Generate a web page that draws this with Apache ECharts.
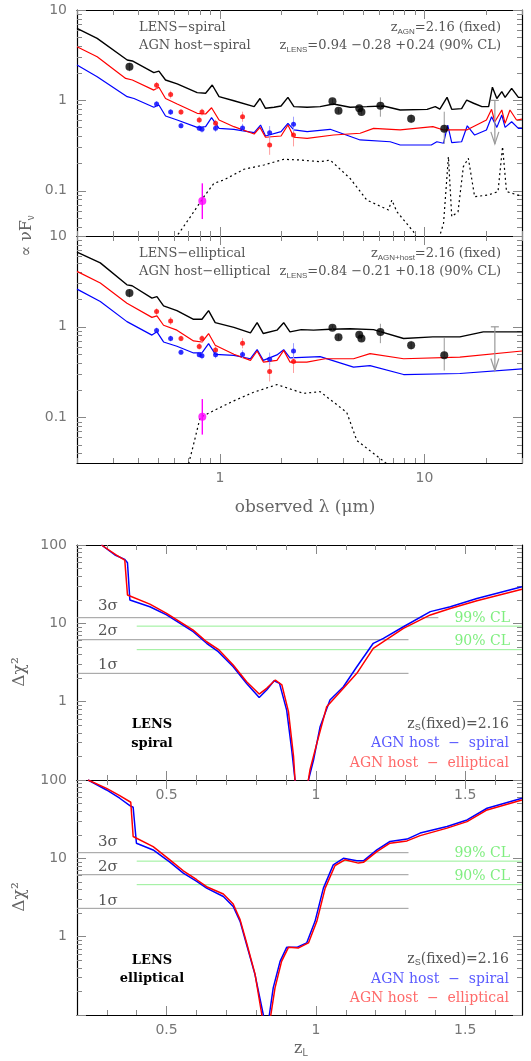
<!DOCTYPE html>
<html>
<head>
<meta charset="utf-8">
<script src="https://cdn.jsdelivr.net/npm/echarts@6/dist/echarts.min.js"></script>
<style>
  html, body { margin: 0; padding: 0; background: #fff; }
  #chart { width: 531px; height: 1061px; }
</style>
</head>
<body>
<div id="chart"></div>
<script>
// ---------- SED, LENS spiral / AGN host spiral ----------
const spBlackLam = [0.2, 0.251, 0.352, 0.373, 0.475, 0.503, 0.542, 0.618, 0.774, 0.851, 0.917, 0.99, 1.17, 1.47, 1.57, 1.67, 1.84, 1.99, 2.15, 2.30, 2.67, 3.09, 3.59, 4.33, 5.23, 6.31, 7.61, 10.3, 11.3, 11.9, 12.9, 13.6, 15.2, 16.1, 17.4, 19.1, 20.6, 21.5, 22.6, 23.9, 24.8, 26.7, 28.8, 30];
const spBlack = [6.27, 4.86, 2.80, 2.73, 2.03, 2.11, 1.68, 1.52, 1.22, 1.20, 1.48, 1.10, 0.99, 0.853, 1.05, 0.818, 0.84, 0.867, 1.08, 0.853, 0.84, 0.853, 0.912, 0.84, 0.853, 0.867, 0.783, 0.796, 0.853, 0.80, 1.08, 0.796, 0.81, 1.01, 0.93, 0.853, 0.853, 1.40, 1.05, 1.25, 1.08, 1.36, 1.08, 1.08];
const spRedLam = [0.2, 0.251, 0.346, 0.373, 0.475, 0.503, 0.542, 0.618, 0.774, 0.851, 0.91, 0.99, 1.17, 1.47, 1.57, 1.67, 1.99, 2.15, 2.30, 2.67, 3.59, 4.85, 5.64, 7.61, 11.0, 12.4, 16.1, 20.1, 21.3, 22.1, 23.9, 24.8, 26.2, 28.2, 30];
const spRed = [3.93, 3.04, 1.75, 1.68, 1.30, 1.40, 1.05, 0.912, 0.72, 0.707, 0.83, 0.607, 0.512, 0.425, 0.503, 0.391, 0.404, 0.534, 0.391, 0.381, 0.414, 0.433, 0.491, 0.471, 0.512, 0.471, 0.471, 0.607, 0.796, 0.58, 0.783, 0.557, 0.783, 0.607, 0.62];
const spBlueLam = [0.2, 0.251, 0.352, 0.38, 0.475, 0.503, 0.542, 0.618, 0.774, 0.851, 0.91, 0.99, 1.17, 1.47, 1.58, 1.67, 1.99, 2.15, 2.30, 2.67, 3.46, 4.85, 6.8, 7.61, 10.8, 11.5, 12.4, 13.0, 13.6, 15.2, 16.2, 17.6, 20.1, 21.3, 22.6, 23.9, 24.8, 26.7, 28.8, 30];
const spBlue = [2.47, 1.83, 1.10, 1.05, 0.84, 0.89, 0.672, 0.607, 0.503, 0.512, 0.644, 0.491, 0.479, 0.44, 0.534, 0.404, 0.451, 0.557, 0.471, 0.451, 0.479, 0.365, 0.349, 0.321, 0.321, 0.349, 0.336, 0.534, 0.341, 0.349, 0.524, 0.414, 0.471, 0.66, 0.503, 0.689, 0.503, 0.58, 0.491, 0.491];
const spDotLam = [0.60, 0.63, 0.718, 0.835, 0.935, 1.046, 1.31, 1.64, 2.05, 2.47, 3.09, 3.46, 4.33, 5.23, 6.67, 6.93, 7.33, 8.84, 9.5, 11.5, 12.4, 13.1, 13.6, 14.6, 15.5, 16.4, 17.6, 20.6, 22.9, 24.1, 25.2, 30];
const spDot = [0.03, 0.0339, 0.0518, 0.086, 0.121, 0.132, 0.173, 0.193, 0.223, 0.219, 0.21, 0.219, 0.137, 0.079, 0.0614, 0.079, 0.0587, 0.0353, 0.025, 0.025, 0.0436, 0.238, 0.0518, 0.0587, 0.185, 0.229, 0.086, 0.09, 0.098, 0.308, 0.098, 0.087];

// ---------- SED, LENS elliptical / AGN host elliptical ----------
const elBlackLam = [0.2, 0.26, 0.351, 0.372, 0.465, 0.492, 0.53, 0.616, 0.743, 0.817, 0.88, 0.948, 1.17, 1.41, 1.52, 1.63, 1.90, 2.05, 2.2, 2.5, 2.87, 3.46, 4.33, 5.64, 7.91, 11.0, 14.9, 19.4, 30];
const elBlack = [6.64, 5.06, 2.90, 2.83, 2.07, 2.15, 1.70, 1.51, 1.21, 1.21, 1.51, 1.11, 0.984, 0.857, 1.11, 0.843, 0.918, 1.11, 0.88, 0.93, 0.918, 0.94, 0.95, 0.93, 0.743, 0.774, 0.774, 0.88, 0.88];
const elRedLam = [0.2, 0.26, 0.351, 0.465, 0.492, 0.53, 0.616, 0.743, 0.817, 0.88, 0.948, 1.17, 1.41, 1.52, 1.63, 1.90, 2.05, 2.2, 2.66, 3.27, 4.5, 5.42, 7.91, 14.9, 30];
const elRed = [4.08, 3.03, 1.82, 1.27, 1.32, 1.04, 0.918, 0.699, 0.68, 0.843, 0.627, 0.498, 0.427, 0.541, 0.409, 0.427, 0.55, 0.409, 0.409, 0.445, 0.445, 0.506, 0.445, 0.464, 0.541];
const elBlueLam = [0.2, 0.26, 0.351, 0.465, 0.492, 0.53, 0.616, 0.743, 0.817, 0.88, 0.948, 1.17, 1.41, 1.52, 1.63, 1.90, 2.05, 2.2, 3.09, 4.5, 5.42, 7.91, 14.9, 30];
const elBlue = [2.60, 1.90, 1.14, 0.81, 0.88, 0.681, 0.61, 0.515, 0.515, 0.653, 0.498, 0.485, 0.445, 0.56, 0.427, 0.49, 0.56, 0.455, 0.47, 0.36, 0.374, 0.298, 0.306, 0.344];
const elDotLam = [0.703, 0.743, 0.8, 0.93, 1.17, 1.46, 1.90, 2.56, 3.09, 4.17, 4.67, 6.55, 7.2];
const elDot = [0.031, 0.0506, 0.1, 0.119, 0.153, 0.19, 0.231, 0.185, 0.193, 0.114, 0.056, 0.031, 0.025];

// ---------- photometry (same in both SED panels) ----------
const blkLam = [0.361, 3.55, 3.80, 4.80, 4.92, 6.09, 8.61, 12.5];
const blkFlux = [2.36, 0.977, 0.769, 0.818, 0.745, 0.875, 0.628, 0.486];
const blkLo = [2.1, 0.92, 0.72, 0.77, 0.70, 0.66, 0.56, 0.33];
const blkHi = [2.6, 1.04, 0.82, 0.87, 0.79, 1.08, 0.70, 0.75];
const colLam = [0.49, 0.574, 0.645, 0.792, 0.817, 0.952, 1.29, 1.75, 2.29];
const redFlux = [1.47, 1.16, 0.745, 0.607, 0.745, 0.557, 0.66, 0.321, 0.414];
const redLo = [1.35, 1.05, 0.69, 0.56, 0.68, 0.51, 0.58, 0.25, 0.31];
const redHi = [1.6, 1.28, 0.80, 0.66, 0.81, 0.61, 0.75, 0.40, 0.56];
const bluFlux = [0.912, 0.745, 0.525, 0.491, 0.479, 0.491, 0.496, 0.44, 0.543];
const bluLo = [0.85, 0.69, 0.49, 0.46, 0.44, 0.45, 0.45, 0.38, 0.45];
const bluHi = [0.98, 0.80, 0.56, 0.53, 0.52, 0.53, 0.55, 0.52, 0.66];
const magLam = [0.82];
const magSp = [0.077], magSpLo = [0.0487], magSpHi = [0.121];
const magEl = [0.102], magElLo = [0.065], magElHi = [0.16];
const ulLam = [22.1], ulTop = [1.0], ulBot = [0.33];

// ---------- delta chi2 vs z_L ----------
const p3BlueZ = [0.282, 0.327, 0.360, 0.369, 0.377, 0.444, 0.5, 0.589, 0.634, 0.673, 0.723, 0.768, 0.810, 0.835, 0.860, 0.878, 0.902, 0.919, 0.930, 0.940, 0.970, 0.975, 0.992, 1.014, 1.047, 1.092, 1.137, 1.192, 1.226, 1.293, 1.383, 1.450, 1.539, 1.69];
const p3Blue = [100, 74.5, 65.6, 59.4, 19.9, 16.3, 12.8, 7.82, 5.56, 4.34, 2.79, 1.71, 1.13, 1.41, 1.85, 1.71, 0.78, 0.24, 0.1, 0.05, 0.05, 0.1, 0.18, 0.48, 1.05, 1.55, 2.79, 5.56, 6.43, 9.04, 14.1, 16.3, 20.8, 29.3];
const p3RedZ = [0.282, 0.332, 0.360, 0.369, 0.444, 0.5, 0.589, 0.634, 0.673, 0.723, 0.768, 0.810, 0.835, 0.864, 0.886, 0.908, 0.925, 0.935, 0.962, 0.980, 1.003, 1.036, 1.092, 1.137, 1.192, 1.226, 1.293, 1.383, 1.450, 1.539, 1.69];
const p3Red = [100, 74.5, 64, 23, 17.6, 13.4, 8.2, 5.82, 4.66, 2.93, 1.8, 1.25, 1.48, 1.89, 1.64, 0.745, 0.2, 0.05, 0.05, 0.134, 0.293, 0.86, 1.48, 2.30, 4.78, 5.82, 8.63, 12.8, 15.5, 19.4, 27.2];
const p4BlueZ = [0.237, 0.299, 0.343, 0.377, 0.388, 0.399, 0.455, 0.511, 0.556, 0.601, 0.634, 0.690, 0.723, 0.746, 0.768, 0.796, 0.824, 0.830, 0.840, 0.844, 0.857, 0.880, 0.902, 0.936, 0.969, 0.997, 1.025, 1.058, 1.092, 1.137, 1.159, 1.204, 1.248, 1.305, 1.349, 1.439, 1.506, 1.573, 1.69];
const p4Blue = [100, 74.6, 58.5, 47.1, 44.9, 15.6, 12.8, 8.94, 6.47, 5.07, 4.17, 3.26, 2.43, 1.57, 0.79, 0.328, 0.1, 0.05, 0.05, 0.1, 0.222, 0.484, 0.731, 0.731, 0.832, 1.57, 4.17, 8.26, 10.0, 9.29, 9.29, 12.8, 16.4, 17.6, 21, 25.5, 30.9, 43.6, 58.5];
const p4RedZ = [0.237, 0.299, 0.343, 0.380, 0.388, 0.455, 0.511, 0.556, 0.601, 0.634, 0.690, 0.723, 0.746, 0.768, 0.796, 0.819, 0.826, 0.842, 0.849, 0.863, 0.885, 0.908, 0.942, 0.975, 1.003, 1.031, 1.064, 1.097, 1.142, 1.159, 1.204, 1.248, 1.305, 1.349, 1.439, 1.506, 1.573, 1.69];
const p4Red = [100, 78.3, 63, 52, 19, 14.1, 9.57, 6.94, 5.33, 4.34, 3.5, 2.61, 1.65, 0.83, 0.335, 0.1, 0.05, 0.05, 0.1, 0.222, 0.484, 0.731, 0.718, 0.832, 1.57, 4.17, 8.1, 9.57, 8.69, 8.9, 12.2, 15.6, 16.7, 19.5, 24.3, 29.4, 41.5, 55.6];

// confidence levels
const sigmaVals = [2.30, 6.18, 11.8];
const clVals = [4.61, 9.21];
const p3SigmaEnd = [1.31, 1.31, 1.41];
const p4SigmaEnd = [1.31, 1.31, 1.31];
const clStart = 0.4;

// ticks
const sedXMajor = [1, 10];
const sedXMinor = [0.2, 0.3, 0.4, 0.5, 0.6, 0.7, 0.8, 0.9, 2, 3, 4, 5, 6, 7, 8, 9, 20, 30];
const sedYMajor = [0.1, 1, 10];
const sedYMinor = [0.04, 0.05, 0.06, 0.07, 0.08, 0.09, 0.2, 0.3, 0.4, 0.5, 0.6, 0.7, 0.8, 0.9, 2, 3, 4, 5, 6, 7, 8, 9];
const chiXMajor = [0.5, 1, 1.5];
const chiXMinor = [0.3, 0.4, 0.6, 0.7, 0.8, 0.9, 1.1, 1.2, 1.3, 1.4, 1.6];
const chiYMajor = [0.1, 1, 10, 100];
const chiYMinor = [0.2, 0.3, 0.4, 0.5, 0.6, 0.7, 0.8, 0.9, 2, 3, 4, 5, 6, 7, 8, 9, 20, 30, 40, 50, 60, 70, 80, 90];

const zip = (xs, ys) => xs.map((x, i) => [x, ys[i]]);
const SERIF = 'DejaVu Serif';

function axes(dim, g, type, min, max, major, minor, labels) {
  const pos = dim === 'x' ? ['bottom', 'top'] : ['left', 'right'];
  const base = { type: type, gridIndex: g, min: min, max: max, splitLine: { show: false }, silent: true };
  if (type === 'log') base.logBase = 10;
  const out = [];
  pos.forEach((p, k) => {
    out.push(Object.assign({}, base, {
      position: p,
      axisLine: { show: true, onZero: false, lineStyle: { color: '#000', width: 1.2 } },
      axisTick: { show: true, inside: true, length: 9, customValues: major, lineStyle: { color: '#888' } },
      axisLabel: (k === 0 && labels) ? {
        show: true, customValues: labels, margin: dim === 'x' ? 8 : 10,
        color: '#777', fontSize: 14, fontFamily: 'DejaVu Sans'
      } : { show: false }
    }));
    out.push(Object.assign({}, base, {
      position: p,
      axisLine: { show: false },
      axisTick: { show: true, inside: true, length: 5, customValues: minor, lineStyle: { color: '#888' } },
      axisLabel: { show: false }
    }));
  });
  return out;
}

function line(g, xs, ys, color, width, type) {
  return {
    type: 'line', xAxisIndex: g * 4, yAxisIndex: g * 4, data: zip(xs, ys),
    symbol: 'none', silent: true, z: 3,
    lineStyle: { color: color, width: width, type: type || 'solid' }
  };
}
function dots(g, xs, ys, color, size) {
  return {
    type: 'scatter', xAxisIndex: g * 4, yAxisIndex: g * 4, data: zip(xs, ys),
    symbol: 'circle', symbolSize: size, silent: true, z: 5,
    itemStyle: { color: color }
  };
}
function errBars(g, xs, lo, hi, color, width) {
  return {
    type: 'custom', xAxisIndex: g * 4, yAxisIndex: g * 4, silent: true, z: 4,
    data: xs.map((x, i) => [x, lo[i], hi[i]]),
    renderItem: (params, api) => {
      const a = api.coord([api.value(0), api.value(1)]);
      const b = api.coord([api.value(0), api.value(2)]);
      return { type: 'line', shape: { x1: a[0], y1: a[1], x2: b[0], y2: b[1] },
        style: { stroke: color, lineWidth: width || 1 } };
    }
  };
}
function upperLimit(g) {
  return {
    type: 'custom', xAxisIndex: g * 4, yAxisIndex: g * 4, silent: true, z: 4,
    data: ulLam.map((x, i) => [x, ulTop[i], ulBot[i]]),
    renderItem: (params, api) => {
      const t = api.coord([api.value(0), api.value(1)]);
      const b = api.coord([api.value(0), api.value(2)]);
      const st = { stroke: '#999', lineWidth: 1.2, fill: null };
      return { type: 'group', children: [
        { type: 'line', shape: { x1: t[0], y1: t[1], x2: b[0], y2: b[1] }, style: st },
        { type: 'line', shape: { x1: t[0] - 4, y1: t[1], x2: t[0] + 4, y2: t[1] }, style: st },
        { type: 'polyline', shape: { points: [[b[0] - 4, b[1] - 12], [b[0], b[1]], [b[0] + 4, b[1] - 12]] }, style: st }
      ] };
    }
  };
}
function hline(g, y, x0, x1, color, width) {
  return {
    type: 'line', xAxisIndex: g * 4, yAxisIndex: g * 4, data: [[x0, y], [x1, y]],
    symbol: 'none', silent: true, z: 2, lineStyle: { color: color, width: width || 1 }
  };
}

const grids = [
  { left: 77, top: 10, width: 445, height: 226 },
  { left: 77, top: 236, width: 445, height: 227 },
  { left: 77, top: 545, width: 445, height: 235 },
  { left: 77, top: 780, width: 445, height: 235 }
];

const xAxis = [].concat(
  axes('x', 0, 'log', 0.2, 30, sedXMajor, sedXMinor, null),
  axes('x', 1, 'log', 0.2, 30, sedXMajor, sedXMinor, sedXMajor),
  axes('x', 2, 'value', 0.2, 1.69, chiXMajor, chiXMinor, chiXMajor),
  axes('x', 3, 'value', 0.2, 1.69, chiXMajor, chiXMinor, chiXMajor)
);
const yAxis = [].concat(
  axes('y', 0, 'log', Math.pow(10, -1.5), 10, sedYMajor, sedYMinor, sedYMajor),
  axes('y', 1, 'log', Math.pow(10, -1.5), 10, sedYMajor, sedYMinor, sedYMajor),
  axes('y', 2, 'log', 0.1, 100, chiYMajor, chiYMinor, [1, 10, 100]),
  axes('y', 3, 'log', 0.1, 100, chiYMajor, chiYMinor, [1, 10, 100])
);

const series = [];
// SED panels
[[0, spBlackLam, spBlack, spRedLam, spRed, spBlueLam, spBlue, spDotLam, spDot, magSp, magSpLo, magSpHi],
 [1, elBlackLam, elBlack, elRedLam, elRed, elBlueLam, elBlue, elDotLam, elDot, magEl, magElLo, magElHi]]
  .forEach(([g, bl, b, rl, r, ul, u, dl, d, m, mlo, mhi]) => {
    series.push(line(g, dl, d, '#000', 1.2, [2, 3]));
    series.push(line(g, ul, u, '#0000ff', 1.2));
    series.push(line(g, rl, r, '#ff0000', 1.2));
    series.push(line(g, bl, b, '#000', 1.4));
    series.push(upperLimit(g));
    series.push(errBars(g, blkLam, blkLo, blkHi, '#999'));
    series.push(errBars(g, colLam, redLo, redHi, '#ff9d9d'));
    series.push(errBars(g, colLam, bluLo, bluHi, '#9d9dff'));
    series.push(errBars(g, magLam, mlo, mhi, '#ff00ff', 1.4));
    series.push(dots(g, blkLam, blkFlux, '#000', 8));
    series.push(dots(g, colLam, redFlux, '#ff0000', 5));
    series.push(dots(g, colLam, bluFlux, '#0000ff', 5));
    series.push(dots(g, magLam, m, '#ff00ff', 8));
  });
// chi2 panels
[[2, p3BlueZ, p3Blue, p3RedZ, p3Red, p3SigmaEnd], [3, p4BlueZ, p4Blue, p4RedZ, p4Red, p4SigmaEnd]]
  .forEach(([g, bz, b, rz, r, sEnd]) => {
    sigmaVals.forEach((v, i) => series.push(hline(g, v, 0.2, sEnd[i], '#9a9a9a')));
    clVals.forEach(v => series.push(hline(g, v, clStart, 1.69, '#95ef95')));
    series.push(line(g, bz, b, '#0000ff', 1.5));
    series.push(line(g, rz, r, '#ff0000', 1.5));
  });

// ---------- annotation text ----------
const grey = '#555';
function txt(x, y, text, opt) {
  opt = opt || {};
  const size = opt.size || 13;
  return {
    type: 'text', x: x, y: y, rotation: opt.rot || 0, silent: true, z: 10,
    style: {
      text: text, x: 0, y: 0, fill: opt.color || grey,
      font: (opt.weight || 'normal') + ' ' + size + 'px "' + (opt.family || SERIF) + '"',
      align: opt.align || 'left', verticalAlign: 'middle',
      rich: {
        n: { lineHeight: size + 3 },
        sub: { fontSize: Math.round(size * 0.62), verticalAlign: 'bottom', lineHeight: 8 },
        i: { fontStyle: 'italic' }
      }
    }
  };
}
const graphic = [
  txt(139, 28, 'LENS−spiral'),
  txt(139, 46, 'AGN host−spiral'),
  txt(501, 28, '{n|z}{sub|AGN}{n|=2.16 (fixed)}', { align: 'right' }),
  txt(501, 46, '{n|z}{sub|LENS}{n|=0.94 −0.28 +0.24 (90% CL)}', { align: 'right' }),
  txt(139, 254, 'LENS−elliptical'),
  txt(139, 272, 'AGN host−elliptical'),
  txt(501, 254, '{n|z}{sub|AGN+host}{n|=2.16 (fixed)}', { align: 'right' }),
  txt(501, 272, '{n|z}{sub|LENS}{n|=0.84 −0.21 +0.18 (90% CL)}', { align: 'right' }),
  txt(305, 508, 'observed λ (μm)', { align: 'center', size: 17, color: '#666' }),
  txt(27, 236, '{n|∝ νF}{sub|ν}', { align: 'center', size: 16, color: '#666', rot: Math.PI / 2 }),
  txt(20, 672, 'Δχ²', { align: 'center', size: 17, color: '#666', rot: Math.PI / 2 }),
  txt(20, 897, 'Δχ²', { align: 'center', size: 17, color: '#666', rot: Math.PI / 2 }),
  txt(301, 1049, '{n|z}{sub|L}', { align: 'center', size: 16, color: '#666' }),
  // panel 3
  txt(98, 606, '3{i|σ}', { size: 15 }), txt(98, 631, '2{i|σ}', { size: 15 }), txt(98, 665, '1{i|σ}', { size: 15 }),
  txt(510, 618, '99% CL', { align: 'right', color: '#80ee80', size: 14 }),
  txt(510, 641, '90% CL', { align: 'right', color: '#80ee80', size: 14 }),
  txt(152, 725, 'LENS', { align: 'center', color: '#000', weight: 'bold' }),
  txt(152, 744, 'spiral', { align: 'center', color: '#000', weight: 'bold' }),
  txt(509, 724, '{n|z}{sub|S}{n|(fixed)=2.16}', { align: 'right', size: 14 }),
  txt(509, 743, 'AGN host  −  spiral', { align: 'right', size: 14, color: '#5a5aff' }),
  txt(509, 763, 'AGN host  −  elliptical', { align: 'right', size: 14, color: '#ff6a6a' }),
  // panel 4
  txt(98, 842, '3{i|σ}', { size: 15 }), txt(98, 867, '2{i|σ}', { size: 15 }), txt(98, 901, '1{i|σ}', { size: 15 }),
  txt(510, 853, '99% CL', { align: 'right', color: '#80ee80', size: 14 }),
  txt(510, 876, '90% CL', { align: 'right', color: '#80ee80', size: 14 }),
  txt(152, 961, 'LENS', { align: 'center', color: '#000', weight: 'bold' }),
  txt(152, 979, 'elliptical', { align: 'center', color: '#000', weight: 'bold' }),
  txt(509, 959, '{n|z}{sub|S}{n|(fixed)=2.16}', { align: 'right', size: 14 }),
  txt(509, 979, 'AGN host  −  spiral', { align: 'right', size: 14, color: '#5a5aff' }),
  txt(509, 998, 'AGN host  −  elliptical', { align: 'right', size: 14, color: '#ff6a6a' })
];

const chart = echarts.init(document.getElementById('chart'), null, { renderer: 'canvas' });
chart.setOption({
  animation: false,
  backgroundColor: '#fff',
  textStyle: { fontFamily: SERIF },
  grid: grids,
  xAxis: xAxis,
  yAxis: yAxis,
  series: series,
  graphic: graphic
});
</script>
</body>
</html>
